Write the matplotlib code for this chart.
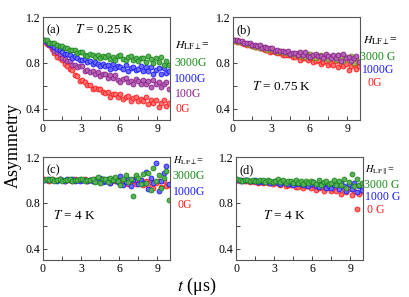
import matplotlib
matplotlib.use("Agg")
import matplotlib.pyplot as plt
from matplotlib.ticker import FixedLocator

plt.rcParams['font.family'] = ['Liberation Serif', 'DejaVu Serif']
plt.rcParams['mathtext.fontset'] = 'stix'

# time axis (µs)
t = [0.1, 0.3, 0.5, 0.7, 0.9, 1.1, 1.3, 1.5, 1.7, 1.9,
     2.1, 2.3, 2.5, 2.7, 2.9, 3.1, 3.3, 3.5, 3.7, 3.9,
     4.1, 4.3, 4.5, 4.7, 4.9, 5.1, 5.3, 5.5, 5.7, 5.9,
     6.1, 6.3, 6.5, 6.7, 6.9, 7.1, 7.3, 7.5, 7.7, 7.9,
     8.1, 8.3, 8.5, 8.7, 8.9, 9.1, 9.3, 9.5, 9.7, 9.9]

# (a) T = 0.25 K
a_0G = [0.992, 0.966, 0.956, 0.918, 0.886, 0.853, 0.845, 0.822, 0.789, 0.773,
        0.746, 0.739, 0.691, 0.682, 0.640, 0.648, 0.630, 0.604, 0.610, 0.574,
        0.579, 0.567, 0.575, 0.541, 0.533, 0.546, 0.502, 0.530, 0.531, 0.505,
        0.531, 0.487, 0.498, 0.509, 0.467, 0.496, 0.504, 0.465, 0.481, 0.462,
        0.503, 0.436, 0.474, 0.449, 0.473, 0.414, 0.451, 0.477, 0.426, 0.452]
a_100G = [0.992, 0.986, 0.959, 0.939, 0.904, 0.892, 0.877, 0.845, 0.836, 0.816,
          0.816, 0.782, 0.782, 0.766, 0.773, 0.770, 0.732, 0.738, 0.723, 0.727,
          0.702, 0.719, 0.685, 0.700, 0.698, 0.667, 0.696, 0.670, 0.694, 0.651,
          0.636, 0.659, 0.668, 0.636, 0.645, 0.613, 0.654, 0.638, 0.613, 0.649,
          0.614, 0.643, 0.589, 0.653, 0.613, 0.628, 0.587, 0.615, 0.633, 0.567]
a_1000G = [0.999, 0.980, 0.961, 0.958, 0.940, 0.920, 0.916, 0.893, 0.878, 0.877,
           0.868, 0.842, 0.856, 0.842, 0.821, 0.822, 0.831, 0.804, 0.814, 0.790,
           0.806, 0.793, 0.775, 0.793, 0.769, 0.779, 0.742, 0.785, 0.758, 0.774,
           0.767, 0.742, 0.779, 0.732, 0.758, 0.766, 0.738, 0.747, 0.772, 0.728,
           0.762, 0.727, 0.766, 0.700, 0.739, 0.754, 0.706, 0.757, 0.713, 0.725]
a_3000G = [0.998, 0.995, 0.974, 0.974, 0.970, 0.953, 0.947, 0.946, 0.925, 0.926,
           0.909, 0.914, 0.914, 0.882, 0.890, 0.891, 0.872, 0.857, 0.877, 0.865,
           0.852, 0.869, 0.842, 0.855, 0.847, 0.869, 0.836, 0.852, 0.824, 0.860,
           0.869, 0.836, 0.825, 0.851, 0.863, 0.823, 0.839, 0.814, 0.845, 0.838,
           0.808, 0.859, 0.832, 0.795, 0.842, 0.808, 0.848, 0.777, 0.817, 0.781]

# (b) T = 0.75 K
b_0G = [0.997, 0.985, 0.986, 0.973, 0.968, 0.956, 0.959, 0.950, 0.939, 0.939,
        0.926, 0.931, 0.910, 0.911, 0.894, 0.903, 0.895, 0.882, 0.888, 0.867,
        0.872, 0.864, 0.870, 0.851, 0.850, 0.862, 0.825, 0.846, 0.845, 0.822,
        0.842, 0.806, 0.814, 0.822, 0.788, 0.810, 0.816, 0.784, 0.796, 0.781,
        0.816, 0.759, 0.792, 0.771, 0.792, 0.741, 0.771, 0.792, 0.747, 0.769]
b_3000G = [0.991, 0.991, 0.978, 0.978, 0.975, 0.962, 0.957, 0.956, 0.942, 0.943,
           0.932, 0.936, 0.936, 0.914, 0.918, 0.918, 0.904, 0.893, 0.904, 0.894,
           0.884, 0.894, 0.875, 0.881, 0.873, 0.888, 0.860, 0.871, 0.847, 0.875,
           0.881, 0.853, 0.843, 0.863, 0.871, 0.839, 0.851, 0.832, 0.856, 0.850,
           0.824, 0.867, 0.844, 0.812, 0.852, 0.823, 0.860, 0.801, 0.839, 0.811]
b_1000G = [0.998, 0.999, 0.989, 0.987, 0.973, 0.973, 0.971, 0.956, 0.957, 0.949,
           0.953, 0.933, 0.936, 0.926, 0.931, 0.930, 0.906, 0.912, 0.902, 0.905,
           0.890, 0.901, 0.879, 0.889, 0.887, 0.864, 0.890, 0.871, 0.893, 0.861,
           0.851, 0.871, 0.879, 0.855, 0.863, 0.839, 0.873, 0.862, 0.842, 0.870,
           0.841, 0.866, 0.819, 0.874, 0.839, 0.852, 0.817, 0.842, 0.859, 0.804]

# (c) T = 4 K, H perpendicular
c_0G = [1.004, 0.998, 0.994, 1.005, 1.002, 0.996, 1.007, 0.999, 0.994, 1.003,
        1.002, 0.993, 1.006, 1.002, 0.995, 0.998, 1.006, 0.994, 1.000, 0.989,
        1.004, 0.996, 0.984, 1.007, 0.989, 0.998, 0.976, 1.002, 0.986, 0.996,
        0.995, 0.971, 1.008, 0.963, 0.989, 0.997, 0.968, 0.976, 1.001, 0.957,
        0.990, 0.956, 0.996, 0.932, 0.973, 0.988, 0.940, 0.991, 0.947, 0.959]
c_1000G = [1.003, 0.995, 1.008, 0.998, 1.001, 0.991, 1.006, 1.002, 0.993, 1.004,
           0.996, 1.008, 0.992, 0.999, 0.987, 1.002, 0.999, 0.992, 1.003, 0.987,
           0.998, 0.992, 1.013, 0.983, 0.988, 1.006, 0.973, 0.999, 1.002, 0.984,
           1.031, 0.958, 0.985, 1.012, 0.943, 1.002, 1.024, 0.960, 0.996, 0.969,
           1.066, 0.922, 1.018, 0.970, 1.150, 0.905, 0.993, 1.057, 1.118, 0.962]
c_3000G = [0.996, 1.007, 0.999, 1.005, 0.992, 1.002, 1.009, 0.994, 1.003, 0.998,
           1.008, 0.993, 1.001, 0.996, 1.006, 1.010, 0.991, 1.002, 0.997, 1.005,
           0.985, 1.023, 0.975, 1.008, 1.010, 0.980, 1.015, 0.995, 1.025, 0.988,
           0.951, 1.011, 1.039, 0.978, 1.006, 0.855, 1.044, 1.017, 0.967, 1.050,
           0.970, 1.060, 0.910, 1.100, 0.990, 1.040, 0.930, 1.020, 1.080, 0.820]

# (d) T = 4 K, H parallel
d_0G = [0.997, 0.989, 0.997, 0.988, 0.989, 0.979, 0.989, 0.985, 0.975, 0.982,
        0.975, 0.982, 0.969, 0.973, 0.962, 0.976, 0.970, 0.957, 0.972, 0.946,
        0.958, 0.952, 0.965, 0.941, 0.942, 0.954, 0.928, 0.945, 0.946, 0.931,
        0.956, 0.914, 0.927, 0.940, 0.900, 0.930, 0.940, 0.903, 0.920, 0.903,
        0.946, 0.881, 0.920, 0.897, 0.923, 0.864, 0.901, 0.748, 0.875, 0.901]
d_1000G = [0.998, 1.003, 0.991, 0.998, 1.000, 0.990, 0.990, 0.996, 0.982, 0.989,
           0.982, 0.987, 0.990, 0.975, 0.981, 0.987, 0.973, 0.962, 0.985, 0.975,
           0.965, 0.984, 0.959, 0.971, 0.962, 0.975, 0.955, 0.963, 0.946, 0.966,
           0.981, 0.947, 0.936, 0.961, 0.973, 0.933, 0.950, 0.925, 0.957, 0.951,
           0.917, 0.976, 0.947, 0.905, 0.960, 0.923, 0.973, 0.896, 0.947, 0.910]
d_3000G = [1.004, 0.997, 0.993, 1.003, 0.999, 0.992, 1.003, 0.994, 0.988, 0.997,
           0.995, 0.985, 0.998, 0.993, 0.985, 0.989, 1.004, 0.982, 0.995, 0.974,
           0.994, 0.986, 0.973, 0.996, 0.977, 0.986, 0.964, 0.991, 0.975, 0.986,
           0.985, 0.962, 0.999, 0.954, 0.980, 0.990, 0.963, 0.972, 0.999, 0.956,
           0.993, 0.957, 1.004, 0.932, 0.979, 1.050, 0.947, 1.006, 0.958, 0.974]

panel_labels = ['(a)', '(b)', '(c)', '(d)']
temps = ['$T$ = 0.25 K', '$T$ = 0.75 K', '$T$ = 4 K', '$T$ = 4 K']
xticks = [0, 3, 6, 9]
yticks = [0.4, 0.8, 1.2]

RED = ('#ff1a1a', '#ff7070')
PUR = ('#8a1f8a', '#b565b5')
BLU = ('#1a1aff', '#6b6bff')
GRN = ('#178a17', '#5cb05c')
OLV = ('#7d8c1e', '#a7b453')

W, H = 409, 297
fig = plt.figure(figsize=(W / 100, H / 100), dpi=100)

def axbox(x0, x1, y0, y1):
    return [x0 / W, 1 - y1 / H, (x1 - x0) / W, (y1 - y0) / H]

axA = fig.add_axes(axbox(43, 170, 17, 120))
axB = fig.add_axes(axbox(233, 360, 17, 120))
axC = fig.add_axes(axbox(43, 170, 157, 260))
axD = fig.add_axes(axbox(236, 363, 157, 260))

def scat(ax, y, col):
    ax.plot(t, y, 'o', ls='none', ms=3.5, mew=0.6, mec=col[0], mfc=col[1])

scat(axA, a_0G, RED); scat(axA, a_100G, PUR); scat(axA, a_1000G, BLU); scat(axA, a_3000G, GRN)
scat(axB, b_0G, RED); scat(axB, b_3000G, OLV); scat(axB, b_1000G, PUR)
scat(axC, c_0G, RED); scat(axC, c_1000G, BLU); scat(axC, c_3000G, GRN)
scat(axD, d_0G, RED); scat(axD, d_1000G, BLU); scat(axD, d_3000G, GRN)

for ax, pl in zip([axA, axB, axC, axD], panel_labels):
    ax.set_xlim(0, 10)
    ax.set_ylim(0.3, 1.2)
    ax.set_xticks(xticks)
    ax.set_yticks(yticks)
    ax.xaxis.set_minor_locator(FixedLocator([1.5, 4.5, 7.5]))
    ax.yaxis.set_minor_locator(FixedLocator([0.6, 1.0]))
    ax.tick_params(which='both', direction='in', length=3, width=0.7,
                   labelsize=8.5, pad=2, color='#444444')
    for s in ax.spines.values():
        s.set_linewidth(0.8)
        s.set_color('#555555')
    ax.text(0.03, 0.875, pl, transform=ax.transAxes, fontsize=9, va='center', ha='left')

axA.text(0.25, 0.875, temps[0], transform=axA.transAxes, fontsize=9.5, va='center', ha='left')
axB.text(0.15, 0.33, temps[1], transform=axB.transAxes, fontsize=9.5, va='center', ha='left')
axC.text(0.08, 0.43, temps[2], transform=axC.transAxes, fontsize=9.5, va='center', ha='left')
axD.text(0.21, 0.43, temps[3], transform=axD.transAxes, fontsize=9.5, va='center', ha='left')

def ftxt(x, y, s, c='black', fs=8.5):
    fig.text(x / W, 1 - y / H, s, color=c, fontsize=fs, va='center', ha='left')

HPERP = r'$H_{\mathrm{LF}\perp}$='
HPAR = r'$H_{\mathrm{LF}\parallel}$='

# legend (a)
ftxt(175, 46, HPERP)
ftxt(174, 63, '3000G', GRN[0])
ftxt(174, 79, '1000G', BLU[0])
ftxt(175, 94, '100G', PUR[0])
ftxt(176, 109, '0G', RED[0])
# legend (b)
ftxt(363, 41, HPERP)
ftxt(360, 57, '3000 G', GRN[0])
ftxt(362, 70, '1000G', BLU[0])
ftxt(367, 83, '0G', RED[0])
# legend (c)
ftxt(173, 161, HPERP, fs=7.5)
ftxt(172, 176, '3000G', GRN[0])
ftxt(173, 192, '1000G', BLU[0])
ftxt(178, 205, '0G', RED[0])
# legend (d)
ftxt(365, 170, HPAR, fs=7.5)
ftxt(364, 185, '3000 G', GRN[0])
ftxt(365, 197, '1000 G', BLU[0])
ftxt(367, 210, '0 G', RED[0])

fig.text(13 / W, 1 - 145 / H, 'Asymmetry', rotation=90, fontsize=13, va='center', ha='center')
fig.text(197 / W, 1 - 286 / H, r'$t$ (μs)', fontsize=13, va='center', ha='center')

fig.savefig('out.png', dpi=100)
